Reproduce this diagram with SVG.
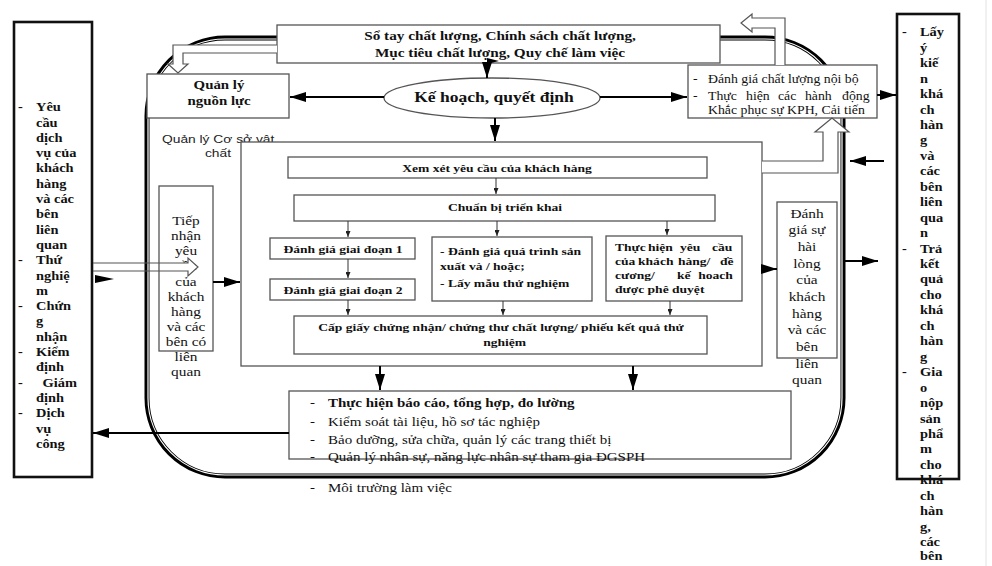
<svg xmlns="http://www.w3.org/2000/svg" width="992" height="566" viewBox="0 0 992 566">
<defs>
<marker id="ah" viewBox="0 0 16 10" refX="16" refY="5" markerWidth="16" markerHeight="10" markerUnits="userSpaceOnUse" orient="auto"><path d="M0,0 L16,5 L0,10 Z" fill="#000"/></marker>
<marker id="ahs" viewBox="0 0 6 5" refX="6" refY="2.5" markerWidth="6" markerHeight="5" markerUnits="userSpaceOnUse" orient="auto"><path d="M0,0 L6,2.5 L0,5 Z" fill="#222"/></marker>
</defs>
<style>
.bx{fill:#fff;stroke:#555;stroke-width:1.3}
.ob{fill:#fff;stroke:#111;stroke-width:2.6}
.tb{font-family:"Liberation Serif","Times New Roman",serif;font-weight:bold;fill:#111}
.tr{font-family:"Liberation Serif","Times New Roman",serif;fill:#111}
.ts{font-family:"Liberation Sans",Arial,sans-serif;fill:#222}
.m{text-anchor:middle}
.ca{stroke:#000;stroke-width:2;fill:none;marker-end:url(#ah)}
.cs{stroke:#333;stroke-width:1;fill:none;marker-end:url(#ahs)}
.ha{fill:#fff;stroke:#555;stroke-width:1.2}
</style>
<rect width="992" height="566" fill="#fff"/>
<line x1="986" y1="0" x2="986" y2="566" stroke="#e2e2e2" stroke-width="1"/>

<g id="frame">
<rect x="147" y="38" width="696" height="438" rx="78" fill="none" stroke="#000" stroke-width="5"/>
<rect x="148" y="39" width="694" height="436" rx="77" fill="none" stroke="#fff" stroke-width="1.2"/>
</g>

<g id="n-left">
<rect class="ob" x="14" y="22" width="78" height="455"/>
<text class="tb" font-size="12" transform="translate(18,0) scale(1.2,1)"><tspan x="0" y="111.3">-</tspan><tspan x="0" y="264.3">-</tspan><tspan x="0" y="310.2">-</tspan><tspan x="0" y="356.1">-</tspan><tspan x="0" y="386.7">-</tspan><tspan x="0" y="417.3">-</tspan></text>
<text class="tb" font-size="12" transform="translate(36,0) scale(1.2,1)"><tspan x="0" y="111.3">Yêu</tspan><tspan x="0" y="126.6">cầu</tspan><tspan x="0" y="141.9">dịch</tspan><tspan x="0" y="157.2">vụ của</tspan><tspan x="0" y="172.5">khách</tspan><tspan x="0" y="187.8">hàng</tspan><tspan x="0" y="203.1">và các</tspan><tspan x="0" y="218.4">bên</tspan><tspan x="0" y="233.7">liên</tspan><tspan x="0" y="249">quan</tspan><tspan x="0" y="264.3">Thứ</tspan><tspan x="0" y="279.6">nghiệ</tspan><tspan x="0" y="294.9">m</tspan><tspan x="0" y="310.2">Chứn</tspan><tspan x="0" y="325.5">g</tspan><tspan x="0" y="340.8">nhận</tspan><tspan x="0" y="356.1">Kiểm</tspan><tspan x="0" y="371.4">định</tspan><tspan x="5.5" y="386.7">Giám</tspan><tspan x="0" y="402">định</tspan><tspan x="0" y="417.3">Dịch</tspan><tspan x="0" y="432.6">vụ</tspan><tspan x="0" y="447.9">công</tspan></text>
</g>

<g id="n-right">
<rect class="ob" x="897" y="14" width="62" height="465"/>
<text class="tb" font-size="12" transform="translate(902,0) scale(1.2,1)"><tspan x="0" y="36.3">-</tspan><tspan x="0" y="252.6">-</tspan><tspan x="0" y="376.2">-</tspan></text>
<text class="tb" font-size="12" transform="translate(920,0) scale(1.2,1)"><tspan x="0" y="36.3">Lấy</tspan><tspan x="0" y="51.8">ý</tspan><tspan x="0" y="67.2">kiế</tspan><tspan x="0" y="82.7">n</tspan><tspan x="0" y="98.1">khá</tspan><tspan x="0" y="113.6">ch</tspan><tspan x="0" y="129">hàn</tspan><tspan x="0" y="144.5">g</tspan><tspan x="0" y="159.9">và</tspan><tspan x="0" y="175.4">các</tspan><tspan x="0" y="190.8">bên</tspan><tspan x="0" y="206.3">liên</tspan><tspan x="0" y="221.7">qua</tspan><tspan x="0" y="237.2">n</tspan><tspan x="0" y="252.6">Trả</tspan><tspan x="0" y="268.1">kết</tspan><tspan x="0" y="283.5">quả</tspan><tspan x="0" y="299">cho</tspan><tspan x="0" y="314.4">khá</tspan><tspan x="0" y="329.9">ch</tspan><tspan x="0" y="345.3">hàn</tspan><tspan x="0" y="360.8">g</tspan><tspan x="0" y="376.2">Gia</tspan><tspan x="0" y="391.7">o</tspan><tspan x="0" y="407.1">nộp</tspan><tspan x="0" y="422.6">sản</tspan><tspan x="0" y="438">phẩ</tspan><tspan x="0" y="453.5">m</tspan><tspan x="0" y="468.9">cho</tspan><tspan x="0" y="484.4">khá</tspan><tspan x="0" y="499.8">ch</tspan><tspan x="0" y="515.3">hàn</tspan><tspan x="0" y="530.7">g,</tspan><tspan x="0" y="546.2">các</tspan><tspan x="0" y="560.5">bên</tspan></text>
</g>

<g id="n-sotay">
<rect class="bx" x="277" y="25" width="443" height="38"/>
<text class="tb m" font-size="12.7" transform="translate(500,0) scale(1.2,1)"><tspan x="0" y="40">Sổ tay chất lượng, Chính sách chất lượng,</tspan><tspan x="0" y="57">Mục tiêu chất lượng, Quy chế làm việc</tspan></text>
</g>

<g id="n-nguonluc">
<rect class="bx" x="147" y="74" width="142" height="44"/>
<text class="tb m" font-size="12.4" transform="translate(219,0) scale(1.2,1)"><tspan x="0" y="89">Quản lý</tspan><tspan x="0" y="105">nguồn lực</tspan></text>
</g>

<g id="n-kehoach">
<ellipse class="bx" cx="492" cy="98" rx="108" ry="20"/>
<text class="tb m" font-size="14.6" transform="translate(494,102) scale(1.2,1)">Kế hoạch, quyết định</text>
</g>

<g id="n-danhgiacl">
<rect class="bx" x="688" y="65" width="189" height="53"/>
<text class="tr" font-size="11.5" transform="translate(693,0) scale(1.2,1)"><tspan x="0" y="83">-</tspan><tspan x="0" y="100">-</tspan></text>
<text class="tr" font-size="11.5" transform="translate(708,0) scale(1.2,1)"><tspan x="0" y="83">Đánh giá chất lượng nội bộ</tspan><tspan x="0" y="100">Thực</tspan><tspan x="31.7" y="100">hiện</tspan><tspan x="58.3" y="100">các</tspan><tspan x="80.8" y="100">hành</tspan><tspan x="111.7" y="100">động</tspan><tspan x="0" y="114.5">Khắc phục sự KPH, Cải tiến</tspan></text>
</g>

<g id="n-csvc">
<text class="ts" font-size="11.5" transform="translate(162,143) scale(1.2,1)">Quản lý Cơ sở vật</text>
<text class="ts m" font-size="11.5" transform="translate(218,157) scale(1.2,1)">chất</text>
</g>

<g id="n-inner">
<rect class="bx" x="241" y="142" width="521" height="224" fill="none"/>
</g>

<g id="n-tiepnhan">
<rect class="bx" x="159" y="186" width="54" height="165"/>
<text class="tr m" font-size="12.8" transform="translate(186,0) scale(1.2,1)"><tspan x="0" y="225.2">Tiếp</tspan><tspan x="0" y="240.3">nhận</tspan><tspan x="0" y="255.4">yêu</tspan><tspan x="0" y="270.5">cầu</tspan><tspan x="0" y="285.6">của</tspan><tspan x="0" y="300.7">khách</tspan><tspan x="0" y="315.8">hàng</tspan><tspan x="0" y="330.9">và các</tspan><tspan x="0" y="346">bên có</tspan><tspan x="0" y="361.1">liên</tspan><tspan x="0" y="376.2">quan</tspan></text>
</g>

<g id="n-xemxet">
<rect class="bx" x="288" y="157" width="419" height="21"/>
<text class="tb m" font-size="11.3" transform="translate(497,172) scale(1.2,1)">Xem xét yêu cầu của khách hàng</text>
</g>

<g id="n-chuanbi">
<rect class="bx" x="294" y="195" width="421" height="26"/>
<text class="tb m" font-size="11.3" transform="translate(505,211) scale(1.2,1)">Chuẩn bị triển khai</text>
</g>

<g id="n-gd1">
<rect class="bx" x="270" y="238" width="145" height="21"/>
<text class="tb m" font-size="11.3" transform="translate(343,253) scale(1.2,1)">Đánh giá giai đoạn 1</text>
</g>

<g id="n-gd2">
<rect class="bx" x="270" y="279" width="145" height="21"/>
<text class="tb m" font-size="11.3" transform="translate(343,294) scale(1.2,1)">Đánh giá giai đoạn 2</text>
</g>

<g id="n-quatrinh">
<rect class="bx" x="432" y="237" width="160" height="64"/>
<text class="tb" font-size="11.3" transform="translate(440,0) scale(1.2,1)"><tspan x="0" y="255">- Đánh giá quá trình sản</tspan><tspan x="0" y="270">xuất và / hoặc;</tspan><tspan x="0" y="287">- Lấy mẫu thử nghiệm</tspan></text>
</g>

<g id="n-thuchien">
<rect class="bx" x="606" y="236" width="136" height="65"/>
<text class="tb" font-size="11.3" transform="translate(615,0) scale(1.2,1)"><tspan x="0" y="251">Thực</tspan><tspan x="27.5" y="251">hiện</tspan><tspan x="54.2" y="251">yêu</tspan><tspan x="80.8" y="251">cầu</tspan><tspan x="0" y="265">của</tspan><tspan x="19.2" y="265">khách</tspan><tspan x="52.5" y="265">hàng/</tspan><tspan x="87.5" y="265">đề</tspan><tspan x="0" y="279">cương/</tspan><tspan x="51.7" y="279">kế</tspan><tspan x="69.4" y="279">hoach</tspan><tspan x="0" y="293">được phê duyệt</tspan></text>
</g>

<g id="n-capgiay">
<rect class="bx" x="294" y="316" width="413" height="38"/>
<text class="tb m" font-size="11.3" transform="translate(501,0) scale(1.2,1)"><tspan x="0" y="331">Cấp giấy chứng nhận/ chứng thư chất lượng/ phiếu kết quả thử</tspan><tspan x="3" y="346">nghiệm</tspan></text>
</g>

<g id="n-hailong">
<rect class="bx" x="777" y="202" width="60" height="156"/>
<text class="tr m" font-size="12.8" transform="translate(807,0) scale(1.2,1)"><tspan x="0" y="217.8">Đánh</tspan><tspan x="0" y="234.5">giá sự</tspan><tspan x="0" y="251.1">hài</tspan><tspan x="0" y="267.8">lòng</tspan><tspan x="0" y="284.5">của</tspan><tspan x="0" y="301.2">khách</tspan><tspan x="0" y="317.8">hàng</tspan><tspan x="0" y="334.5">và các</tspan><tspan x="0" y="351.2">bên</tspan><tspan x="0" y="367.8">liên</tspan><tspan x="0" y="384.5">quan</tspan></text>
</g>

<g id="n-baocao">
<rect class="bx" x="289" y="391" width="502" height="68"/>
<text class="tr" font-size="12.5" transform="translate(310,0) scale(1.2,1)"><tspan x="0" y="407">-</tspan><tspan x="0" y="426">-</tspan><tspan x="0" y="444">-</tspan><tspan x="0" y="461">-</tspan><tspan x="0" y="492">-</tspan></text>
<text class="tb" font-size="12.5" transform="translate(328,407) scale(1.2,1)">Thực hiện báo cáo, tổng hợp, đo lường</text>
<text class="tr" font-size="12.5" transform="translate(328,0) scale(1.2,1)"><tspan x="0" y="426">Kiểm soát tài liệu, hồ sơ tác nghiệp</tspan><tspan x="0" y="444">Bảo dưỡng, sửa chữa, quản lý các trang thiết bị</tspan><tspan x="0" y="461">Quản lý nhân sự, năng lực nhân sự tham gia ĐGSPH</tspan><tspan x="0" y="492">Môi trường làm việc</tspan></text>
</g>

<g id="connectors">
<path class="ha" d="M277,45 H173 V64 H168 L178,73 L188,64 H183 V53 H277"/>
<path class="ha" d="M785,65 V18 H752 V14 L741,23 L752,32 V28 H775 V65"/>
<path class="ha" d="M762,161 H823 V132 H815 L832,118 L849,132 H838 V173 H762"/>
<path d="M160,263.6 H188 V258 L198,267 L188,276 V270.4 H160 Z" fill="#fff"/>
<path d="M93,263 H188 V258 L198,267 L188,276 V271 H93" fill="none" stroke="#555" stroke-width="1.2"/>
<polygon points="95,275 114,279 95,283" fill="#000"/>
<polygon points="487,58 499,61 487,64" fill="#000"/>
<line class="ca" x1="487" y1="62" x2="487" y2="78"/>
<line class="ca" x1="384" y1="97" x2="290" y2="97"/>
<line class="ca" x1="600" y1="97" x2="687" y2="97"/>
<line class="ca" x1="877" y1="95" x2="896" y2="95"/>
<line class="ca" x1="884" y1="161" x2="850" y2="161"/>
<line class="ca" x1="495" y1="118" x2="495" y2="141"/>
<line class="ca" x1="213" y1="282" x2="240" y2="282"/>
<line class="ca" x1="762" y1="269" x2="777" y2="269"/>
<line class="ca" x1="845" y1="261" x2="878" y2="261"/>
<line class="ca" x1="380" y1="366" x2="380" y2="390"/>
<line class="ca" x1="633" y1="366" x2="633" y2="390"/>
<line class="ca" x1="289" y1="433" x2="93" y2="433"/>
<line class="cs" x1="496" y1="178" x2="496" y2="194"/>
<line class="cs" x1="348" y1="221" x2="348" y2="237"/>
<line class="cs" x1="497" y1="221" x2="497" y2="236"/>
<line class="cs" x1="667" y1="221" x2="667" y2="235"/>
<line class="cs" x1="348" y1="259" x2="348" y2="278"/>
<line class="cs" x1="348" y1="300" x2="348" y2="315"/>
<line class="cs" x1="503" y1="301" x2="503" y2="315"/>
<line class="cs" x1="670" y1="301" x2="670" y2="315"/>
</g>
</svg>
